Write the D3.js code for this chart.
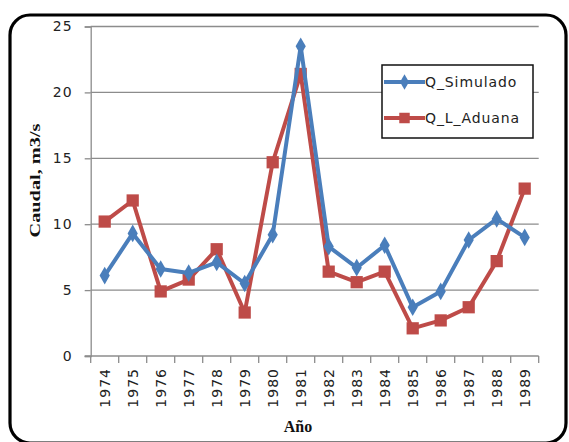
<!DOCTYPE html>
<html>
<head>
<meta charset="utf-8">
<script src="https://cdn.jsdelivr.net/npm/d3@7/dist/d3.min.js"></script>
<style>
  html, body { margin: 0; padding: 0; background: #fff; }
  svg { display: block; }
</style>
</head>
<body>
<svg id="chart" width="569" height="442"></svg>
<script>
// Annual discharge data, 1974–1989
const years = ["1974","1975","1976","1977","1978","1979","1980","1981",
               "1982","1983","1984","1985","1986","1987","1988","1989"];
const qSimulado = [6.1, 9.3, 6.6, 6.3, 7.1, 5.5, 9.2, 23.5, 8.3, 6.7, 8.4, 3.7, 4.9, 8.8, 10.4, 9.0];
const qAduana   = [10.2, 11.8, 4.9, 5.8, 8.1, 3.3, 14.7, 21.4, 6.4, 5.6, 6.4, 2.1, 2.7, 3.7, 7.2, 12.7];
const yTicks = [0, 5, 10, 15, 20, 25];
const seriesNames = ["Q_Simulado", "Q_L_Aduana"];

const blue = "#4a7ebb";
const red = "#be4b48";
const grid = "#8c8c8c";

const svg = d3.select("#chart");

// rounded outer frame
svg.append("rect")
  .attr("x", 10).attr("y", 15)
  .attr("width", 556).attr("height", 428)
  .attr("rx", 20).attr("ry", 20)
  .attr("fill", "#fff")
  .attr("stroke", "#000")
  .attr("stroke-width", 3.2);

const x = d3.scaleBand().domain(years).range([90.7, 538.7]).padding(0);
const y = d3.scaleLinear().domain([0, 25]).range([356, 26.5]);
const cx = d => x(d) + x.bandwidth() / 2;

// horizontal gridlines
svg.append("g").selectAll("line")
  .data(yTicks.filter(t => t > 0))
  .join("line")
  .attr("x1", x.range()[0]).attr("x2", x.range()[1])
  .attr("y1", d => y(d)).attr("y2", d => y(d))
  .attr("stroke", grid).attr("stroke-width", 1.3);

// y axis
const yAxis = svg.append("g")
  .attr("transform", `translate(${x.range()[0]},0)`)
  .call(d3.axisLeft(y).tickValues(yTicks).tickSize(6).tickPadding(12));
yAxis.select(".domain").attr("stroke", grid).attr("stroke-width", 1.3);
yAxis.selectAll(".tick line").attr("stroke", grid).attr("stroke-width", 1.3);
yAxis.selectAll(".tick text")
  .attr("font-family", "DejaVu Sans, sans-serif")
  .attr("font-size", 14).attr("letter-spacing", 1)
  .attr("fill", "#222");

// x axis baseline with ticks at category boundaries
const xg = svg.append("g");
xg.append("line")
  .attr("x1", x.range()[0] - 6).attr("x2", x.range()[1])
  .attr("y1", y(0)).attr("y2", y(0))
  .attr("stroke", grid).attr("stroke-width", 1.3);
xg.selectAll("line.tk")
  .data(years.map(d => x(d)).concat([x.range()[1]]))
  .join("line").attr("class", "tk")
  .attr("x1", d => d).attr("x2", d => d)
  .attr("y1", y(0)).attr("y2", y(0) + 7)
  .attr("stroke", grid).attr("stroke-width", 1.3);
xg.selectAll("text")
  .data(years)
  .join("text")
  .attr("transform", d => `translate(${cx(d) + 5},${y(0) + 12}) rotate(-90)`)
  .attr("text-anchor", "end")
  .attr("font-family", "DejaVu Sans, sans-serif")
  .attr("font-size", 14).attr("letter-spacing", 1)
  .attr("fill", "#222")
  .text(d => d);

// axis titles
svg.append("text")
  .attr("transform", "translate(39.5,180.5) rotate(-90)")
  .attr("text-anchor", "middle")
  .attr("font-family", "Liberation Serif, serif")
  .attr("font-weight", "bold")
  .attr("font-size", 15)
  .attr("textLength", 114).attr("lengthAdjust", "spacingAndGlyphs")
  .attr("fill", "#111")
  .text("Caudal, m3/s");

svg.append("text")
  .attr("x", 298).attr("y", 432)
  .attr("text-anchor", "middle")
  .attr("font-family", "Liberation Serif, serif")
  .attr("font-weight", "bold")
  .attr("font-size", 16)
  .attr("fill", "#111")
  .text("Año");

// series lines and markers
const line = d3.line().x((d, i) => cx(years[i])).y(d => y(d));
const diamond = d3.symbol().type(d3.symbolDiamond).size(90);
const square = d3.symbol().type(d3.symbolSquare).size(150);

function drawSeries(values, color, symbolGen) {
  svg.append("path")
    .datum(values)
    .attr("d", line)
    .attr("fill", "none")
    .attr("stroke", color)
    .attr("stroke-width", 4)
    .attr("stroke-linejoin", "round");
  svg.append("g").selectAll("path")
    .data(values)
    .join("path")
    .attr("transform", (d, i) => `translate(${cx(years[i])},${y(d)})`)
    .attr("d", symbolGen)
    .attr("fill", color);
}
drawSeries(qAduana, red, square);
drawSeries(qSimulado, blue, diamond);

// legend
const lg = svg.append("g");
lg.append("rect")
  .attr("x", 382).attr("y", 65)
  .attr("width", 151).attr("height", 73)
  .attr("fill", "#fff").attr("stroke", "#111").attr("stroke-width", 1.5);
const legendItems = [
  { name: seriesNames[0], color: blue, sym: d3.symbol().type(d3.symbolDiamond).size(70), y: 82 },
  { name: seriesNames[1], color: red, sym: d3.symbol().type(d3.symbolSquare).size(110), y: 118 }
];
legendItems.forEach(it => {
  lg.append("line")
    .attr("x1", 384).attr("x2", 425)
    .attr("y1", it.y).attr("y2", it.y)
    .attr("stroke", it.color).attr("stroke-width", 4);
  lg.append("path")
    .attr("transform", `translate(404.5,${it.y})`)
    .attr("d", it.sym)
    .attr("fill", it.color);
  lg.append("text")
    .attr("x", 425).attr("y", it.y + 5)
    .attr("font-family", "DejaVu Sans, sans-serif")
    .attr("font-size", 14).attr("letter-spacing", 0.9)
    .attr("fill", "#222")
    .text(it.name);
});
</script>
</body>
</html>
